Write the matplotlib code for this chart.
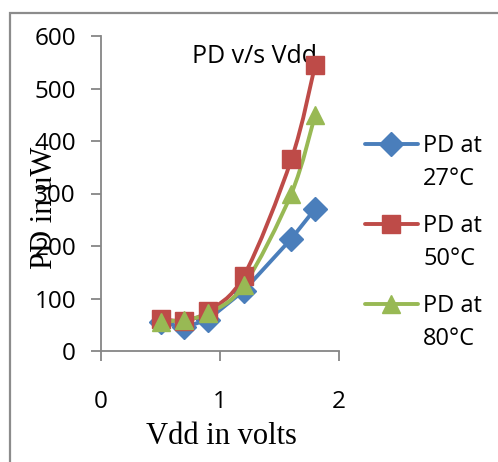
import numpy as np
import matplotlib
matplotlib.use("Agg")
import matplotlib.pyplot as plt
from matplotlib.path import Path
from matplotlib.patches import PathPatch, Rectangle
from matplotlib.lines import Line2D

# Supply voltage (V) and power dissipation (uW) at three temperatures
vdd = [0.5, 0.7, 0.9, 1.2, 1.6, 1.8]
pd_27 = [55, 45, 60, 115, 214, 271]
pd_50 = [61, 58, 76, 143, 365, 545]
pd_80 = [55, 60, 72, 125, 300, 450]

series_labels = ["PD at\n27°C", "PD at\n50°C", "PD at\n80°C"]
colors = ["#4A7EBB", "#BE4B48", "#98B954"]
markers = ["D", "s", "^"]
x_ticks = [0, 1, 2]
y_ticks = [0, 100, 200, 300, 400, 500, 600]

W, H = 498, 462
fig = plt.figure(figsize=(W / 100, H / 100), dpi=100)
fig.patch.set_facecolor("white")

# outer chart border
fig.add_artist(Rectangle((10 / W, -0.05), 1.1, (H - 13) / H + 0.05,
                         transform=fig.transFigure, fill=False,
                         edgecolor="#8c8c8c", linewidth=1.6))

ax = fig.add_axes([101 / W, (H - 351) / H, 238 / W, 315 / H])
ax.set_xlim(0, 2)
ax.set_ylim(0, 600)
ax.set_facecolor("none")

for side in ("top", "right"):
    ax.spines[side].set_visible(False)
for side in ("left", "bottom"):
    ax.spines[side].set_color("#868686")
    ax.spines[side].set_linewidth(1.3)

tick_font = "Open Sans"
ax.set_xticks(x_ticks)
ax.set_yticks(y_ticks)
ax.tick_params(axis="both", direction="out", length=7, width=1.3, color="#868686",
               labelsize=17.5)
ax.tick_params(axis="y", pad=11)
ax.tick_params(axis="x", pad=21)
for lab in ax.get_xticklabels() + ax.get_yticklabels():
    lab.set_fontfamily(tick_font)


def smooth_path(xs, ys, t=1 / 6):
    """Cubic Bezier path through the points (Catmull-Rom style control points)."""
    pts = np.column_stack([xs, ys]).astype(float)
    n = len(pts)
    verts = [pts[0]]
    codes = [Path.MOVETO]
    for i in range(n - 1):
        p0 = pts[i - 1] if i > 0 else pts[i]
        p1 = pts[i]
        p2 = pts[i + 1]
        p3 = pts[i + 2] if i + 2 < n else pts[i + 1]
        c1 = p1 + (p2 - p0) * t
        c2 = p2 - (p3 - p1) * t
        verts += [c1, c2, p2]
        codes += [Path.CURVE4] * 3
    return Path(verts, codes)


lw = 2.8
msize = {"D": 12, "s": 13, "^": 13.5}
all_series = [pd_27, pd_50, pd_80]
smoothed = [False, True, True]
for ys, col, mk, sm in zip(all_series, colors, markers, smoothed):
    if sm:
        patch = PathPatch(smooth_path(vdd, ys), transform=ax.transData,
                          facecolor="none", edgecolor=col, linewidth=lw,
                          capstyle="round", joinstyle="round", zorder=3)
        ax.add_patch(patch)
        ax.plot(vdd, ys, linestyle="none", marker=mk, markersize=msize[mk],
                color=col, zorder=4, clip_on=False)
    else:
        ax.plot(vdd, ys, linestyle="-", linewidth=lw, marker=mk,
                markersize=msize[mk], color=col, zorder=3,
                solid_capstyle="round", clip_on=False)

ax.text(0.645, 0.935, "PD v/s Vdd", transform=ax.transAxes, ha="center",
        va="center", fontsize=18, fontfamily=tick_font, zorder=2)

fig.text(221 / W, 1 - 437 / H, "Vdd in volts", ha="center", va="center",
         fontsize=22, fontfamily="Liberation Serif")
fig.text(45 / W, 1 - 208 / H, "PD in uW", ha="center", va="center",
         rotation=90, fontsize=22, fontfamily="Liberation Serif")

# legend: handle sits on the first line of each two-line label
leg_rows = [144, 224, 304]
for row, lab, col, mk in zip(leg_rows, series_labels, colors, markers):
    yf = 1 - row / H
    fig.add_artist(Line2D([365 / W, 418 / W], [yf, yf], transform=fig.transFigure,
                          color=col, linewidth=lw, solid_capstyle="round"))
    fig.add_artist(Line2D([391 / W], [yf], transform=fig.transFigure,
                          color=col, marker=mk, markersize=msize[mk],
                          linestyle="none"))
    fig.text(423 / W, 1 - (row - 10) / H, lab, ha="left", va="top", fontsize=17,
             fontfamily=tick_font, linespacing=1.5)

fig.savefig("out.png", dpi=100)
